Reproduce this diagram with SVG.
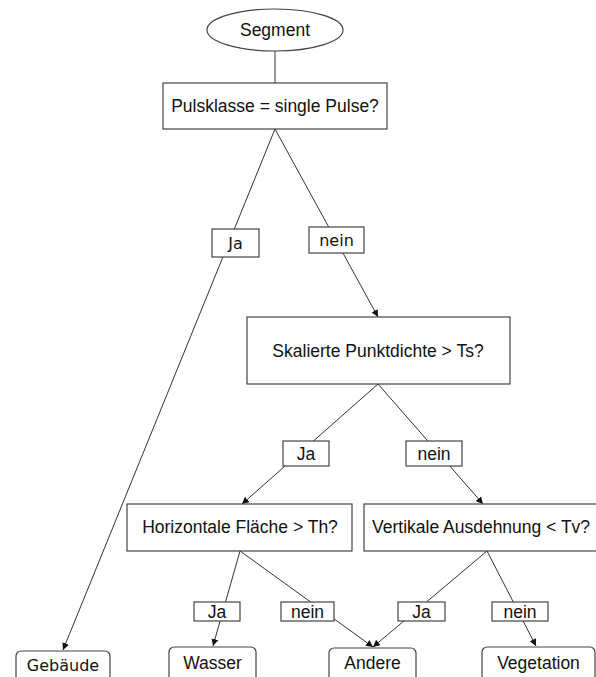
<svg xmlns="http://www.w3.org/2000/svg" width="596" height="677" viewBox="0 0 596 677">
<style>
.box{fill:#fff;stroke:#444;stroke-width:1.2}
.lbl{fill:#fff;stroke:#444;stroke-width:1.2}
.leaf{fill:#fff;stroke:#444;stroke-width:1.2}
.t{font-family:"Liberation Sans",Arial,sans-serif;font-size:17.5px;fill:#111;text-anchor:middle;dominant-baseline:central}
.v{font-family:"DejaVu Sans",Verdana,sans-serif;font-size:16px;fill:#111;text-anchor:middle;dominant-baseline:central}
.c{stroke:#333;stroke-width:1;fill:none}
</style>
<defs>
<marker id="ah" viewBox="0 0 10 10" refX="10" refY="5" markerWidth="7" markerHeight="7" markerUnits="userSpaceOnUse" orient="auto">
<path d="M0,0 L10,5 L0,10 z" fill="#111"/>
</marker>
</defs>
<rect width="596" height="677" fill="#fff"/>
<g id="connectors">
<line class="c" x1="275" y1="51" x2="275" y2="83"/>
<line class="c" x1="275" y1="129" x2="63" y2="650" marker-end="url(#ah)"/>
<line class="c" x1="275" y1="129" x2="378" y2="317" marker-end="url(#ah)"/>
<line class="c" x1="378" y1="384" x2="242" y2="504" marker-end="url(#ah)"/>
<line class="c" x1="378" y1="384" x2="483" y2="504" marker-end="url(#ah)"/>
<line class="c" x1="240" y1="551" x2="213" y2="646" marker-end="url(#ah)"/>
<line class="c" x1="240" y1="551" x2="373" y2="647" marker-end="url(#ah)"/>
<line class="c" x1="487" y1="551" x2="373" y2="647" marker-end="url(#ah)"/>
<line class="c" x1="487" y1="551" x2="536" y2="646" marker-end="url(#ah)"/>
</g>
<g id="segment">
<ellipse class="box" cx="275" cy="30" rx="68" ry="21"/>
<text class="t" x="275" y="30">Segment</text>
</g>
<g id="pulsklasse">
<rect class="box" x="163" y="83" width="224" height="46"/>
<text class="t" x="275" y="106">Pulsklasse = single Pulse?</text>
</g>
<g id="lbl-ja1">
<rect class="lbl" x="212" y="229" width="47" height="28"/>
<text class="v" x="235.5" y="243">Ja</text>
</g>
<g id="lbl-nein1">
<rect class="lbl" x="309" y="227" width="55" height="26"/>
<text class="v" x="336.5" y="240">nein</text>
</g>
<g id="skalierte">
<rect class="box" x="247" y="317" width="263" height="67"/>
<text class="t" x="378" y="351">Skalierte Punktdichte &gt; Ts?</text>
</g>
<g id="lbl-ja2">
<rect class="lbl" x="283" y="441" width="46" height="25"/>
<text class="t" x="306" y="453.5">Ja</text>
</g>
<g id="lbl-nein2">
<rect class="lbl" x="406" y="441" width="56" height="25"/>
<text class="t" x="434" y="453.5">nein</text>
</g>
<g id="horizontale">
<rect class="box" x="127" y="504" width="225" height="47"/>
<text class="t" x="240" y="527">Horizontale Fläche &gt; Th?</text>
</g>
<g id="vertikale">
<rect class="box" x="364" y="504" width="250" height="47"/>
<text class="t" x="372" y="527" style="text-anchor:start">Vertikale Ausdehnung &lt; Tv?</text>
</g>
<g id="lbl-ja3">
<rect class="lbl" x="194" y="602" width="46" height="19"/>
<text class="t" x="217" y="611.5">Ja</text>
</g>
<g id="lbl-nein3">
<rect class="lbl" x="281" y="602" width="53" height="19"/>
<text class="t" x="307.5" y="611.5">nein</text>
</g>
<g id="lbl-ja4">
<rect class="lbl" x="398" y="602" width="47" height="19"/>
<text class="t" x="421.5" y="611.5">Ja</text>
</g>
<g id="lbl-nein4">
<rect class="lbl" x="492" y="602" width="56" height="19"/>
<text class="t" x="520" y="611.5">nein</text>
</g>
<g id="gebaeude">
<rect class="leaf" x="16" y="651" width="94" height="40" rx="5"/>
<text class="v" x="63" y="665">Gebäude</text>
</g>
<g id="wasser">
<rect class="leaf" x="169" y="647" width="87" height="40" rx="5"/>
<text class="t" x="212.5" y="663">Wasser</text>
</g>
<g id="andere">
<rect class="leaf" x="329" y="648" width="87" height="40" rx="5"/>
<text class="t" x="372.5" y="663">Andere</text>
</g>
<g id="vegetation">
<rect class="leaf" x="482" y="647" width="113" height="40" rx="5"/>
<text class="t" x="538.5" y="663">Vegetation</text>
</g>
</svg>
